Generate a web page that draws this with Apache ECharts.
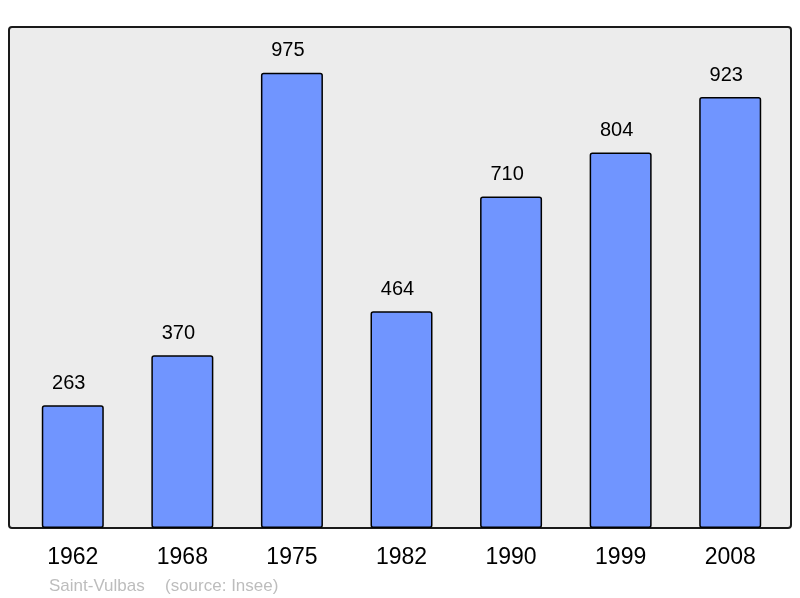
<!DOCTYPE html>
<html>
<head>
<meta charset="utf-8">
<script src="https://cdn.jsdelivr.net/npm/echarts@6/dist/echarts.min.js"></script>
<style>
  html, body { margin: 0; padding: 0; background: #fff; }
  #main { width: 800px; height: 598px; }
</style>
</head>
<body>
<div id="main"></div>
<script>
var years = ['1962', '1968', '1975', '1982', '1990', '1999', '2008'];
var population = [263, 370, 975, 464, 710, 804, 923];
var townName = 'Saint-Vulbas';
var sourceText = '(source: Insee)';

var myChart = echarts.init(document.getElementById('main'));

var option = {
	animation: false,
	graphic: [
		{
			type: 'rect',
			z: -10,
			shape: { x: 9, y: 27, width: 782, height: 501, r: 3 },
			style: { fill: '#ececec', stroke: '#1a1a1a', lineWidth: 2 }
		},
		{
			type: 'text',
			left: 49,
			top: 578,
			style: {
				text: townName,
				fill: '#bdbdbd',
				font: '17px "Liberation Sans", Arial, sans-serif'
			}
		},
		{
			type: 'text',
			left: 165,
			top: 578,
			style: {
				text: sourceText,
				fill: '#bdbdbd',
				font: '17px "Liberation Sans", Arial, sans-serif'
			}
		}
	],
	grid: {
		left: 18,
		right: 15,
		top: 27,
		bottom: 70
	},
	xAxis: {
		type: 'category',
		data: years,
		axisLine: { show: false },
		axisTick: { show: false },
		axisLabel: {
			margin: 18,
			color: '#000',
			fontSize: 23,
			fontFamily: '"Liberation Sans", Arial, sans-serif'
		}
	},
	yAxis: {
		type: 'value',
		min: 0,
		max: 1073,
		show: false,
		splitLine: { show: false }
	},
	series: [{
		type: 'bar',
		data: population,
		barWidth: 62,
		itemStyle: {
			color: '#7095ff',
			borderColor: '#000',
			borderWidth: 1.5,
			borderRadius: 2
		},
		label: {
			show: true,
			position: 'top',
			distance: 12,
			offset: [-4, 0],
			color: '#000',
			fontSize: 20,
			fontFamily: '"Liberation Sans", Arial, sans-serif'
		}
	}]
};
myChart.setOption(option);
</script>
</body>
</html>
